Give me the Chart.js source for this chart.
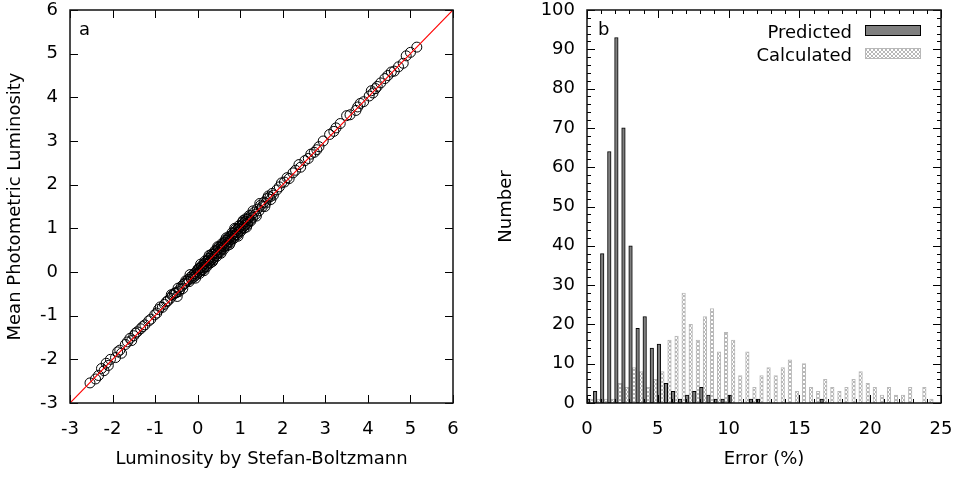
<!DOCTYPE html>
<html><head><meta charset="utf-8">
<script src="https://cdn.jsdelivr.net/npm/chart.js@4.4.1/dist/chart.umd.min.js"></script>
<style>
html,body{margin:0;padding:0;background:#fff;}
#wrap{position:relative;width:960px;height:478px;overflow:hidden;}
#c1{position:absolute;left:0;top:0;}
#c2{position:absolute;left:480px;top:0;}
</style></head><body>
<div id="wrap"><canvas id="c1" width="480" height="478"></canvas><canvas id="c2" width="480" height="478"></canvas></div>
<script>
// ---------- Panel a data: [Luminosity by Stefan-Boltzmann, Mean Photometric Luminosity]
const starPoints = [
[-2.53,-2.54],[-2.4,-2.45],[-2.33,-2.37],[-2.26,-2.21],[-2.2,-2.26],[-2.15,-2.09],[-2.1,-2.14],[-2.05,-2.0],
[-1.93,-1.96],[-1.88,-1.83],[-1.83,-1.79],[-1.79,-1.86],[-1.7,-1.66],[-1.65,-1.6],[-1.59,-1.52],[-1.55,-1.57],
[-1.5,-1.46],[-1.46,-1.4],[-1.42,-1.37],[-1.34,-1.3],[-1.29,-1.25],[-1.24,-1.21],[-1.15,-1.12],[-1.1,-1.08],
[-1.01,-0.98],[-0.96,-0.94],[-0.92,-0.86],[-0.88,-0.8],[-0.83,-0.81],[-0.78,-0.74],[-0.73,-0.68],[-0.7,-0.66],
[-0.64,-0.6],[-0.59,-0.53],[-0.55,-0.49],[-0.52,-0.48],[-0.5,-0.47],[-0.46,-0.37],[-0.44,-0.45],[-0.42,-0.4],
[-0.38,-0.33],[-0.35,-0.38],[-0.33,-0.28],[-0.3,-0.26],[-0.28,-0.2],[-0.25,-0.21],
[-0.22,-0.17],[-0.2,-0.22],[-0.17,-0.12],[-0.15,-0.16],[-0.12,-0.08],[-0.1,-0.12],[-0.08,-0.04],[-0.06,-0.09],
[-0.04,0.0],[-0.02,-0.05],[0.0,0.04],[0.02,-0.01],[0.04,0.08],[0.06,0.02],[0.08,0.1],[0.1,0.05],
[0.12,0.15],[0.14,0.1],[0.16,0.2],[0.18,0.13],[0.2,0.24],[0.22,0.18],[0.24,0.27],[0.26,0.22],
[0.28,0.31],[0.3,0.25],[0.32,0.36],[0.34,0.3],[0.36,0.4],[0.38,0.33],[0.4,0.44],[0.42,0.38],
[0.44,0.48],[0.46,0.42],[0.48,0.52],[0.5,0.46],[0.52,0.55],[0.54,0.5],[0.56,0.6],[0.58,0.54],
[0.6,0.64],[0.62,0.58],[0.64,0.68],[0.66,0.62],[0.68,0.72],[0.7,0.66],[0.72,0.76],[0.74,0.7],
[0.76,0.8],[0.78,0.74],[0.8,0.84],[0.82,0.78],[0.84,0.88],[0.86,0.82],[0.88,0.92],[0.9,0.86],
[0.92,0.96],[0.94,0.9],[0.96,1.0],[0.98,0.94],[1.0,1.04],[1.02,0.98],[1.04,1.08],[1.06,1.02],
[1.08,1.12],[1.1,1.06],[1.12,1.16],[1.14,1.1],[1.16,1.2],[1.18,1.14],[1.2,1.24],[1.23,1.18],
[1.26,1.3],[1.29,1.25],[1.32,1.36],[1.36,1.32],[1.4,1.44],[1.44,1.4],[1.48,1.53],[1.52,1.5],
[1.56,1.6],[1.6,1.58],[1.64,1.69],[1.7,1.72],[1.75,1.8],[1.78,1.76],
[0.01,0.07],[0.05,-0.03],[0.09,0.14],[0.13,0.06],[0.17,0.25],[0.21,0.12],[0.25,0.32],[0.29,0.2],
[0.33,0.41],[0.37,0.28],[0.41,0.49],[0.45,0.36],[0.49,0.57],[0.53,0.45],[0.57,0.65],[0.61,0.52],
[0.65,0.73],[0.69,0.6],[0.73,0.81],[0.77,0.68],[0.81,0.9],[0.85,0.77],[0.89,0.98],[0.93,0.85],
[0.97,1.06],[1.01,0.93],[1.05,1.14],[1.09,1.0],[1.13,1.22],[1.17,1.09],[1.21,1.29],[1.25,1.17],
[-0.18,-0.06],[-0.05,-0.14],[0.07,0.18],[0.15,0.03],[0.27,0.38],[0.35,0.24],[0.47,0.58],[0.55,0.43],
[0.67,0.78],[0.75,0.63],[0.87,1.0],[0.95,0.82],[1.07,1.18],[1.15,1.03],[1.3,1.4],[1.38,1.28],
[1.46,1.57],[1.58,1.5],[-0.62,-0.52],[-0.48,-0.56],[1.66,1.74],[1.72,1.66],
[1.86,1.88],[1.92,1.95],[1.97,2.04],[2.04,2.06],[2.1,2.16],[2.15,2.14],[2.24,2.27],[2.3,2.33],
[2.38,2.46],[2.42,2.4],[2.52,2.55],[2.6,2.6],[2.66,2.7],[2.74,2.74],[2.8,2.8],
[2.85,2.87],[2.95,3.0],[3.1,3.15],[3.2,3.22],[3.25,3.3],[3.35,3.4],[3.5,3.58],[3.58,3.6],
[3.72,3.7],[3.76,3.78],[3.82,3.86],[3.9,3.9],[4.03,4.03],[4.08,4.15],[4.12,4.1],[4.18,4.2],
[4.22,4.25],[4.3,4.33],[4.4,4.43],[4.47,4.5],[4.55,4.58],[4.62,4.6],[4.72,4.7],[4.83,4.78],
[4.9,4.95],[5.0,5.03],[5.15,5.15]
];
const lumTicks = [-3,-2,-1,0,1,2,3,4,5,6];

// ---------- Panel b data: histogram of errors (%), bins of 0.5
const errorBins = [0,0.5,1,1.5,2,2.5,3,3.5,4,4.5,5,5.5,6,6.5,7,7.5,8,8.5,9,9.5,10,10.5,11,11.5,12,12.5,
  13,13.5,14,14.5,15,15.5,16,16.5,17,17.5,18,18.5,19,19.5,20,20.5,21,21.5,22,22.5,23,23.5,24];
const predicted = [1,3,38,64,93,70,40,19,22,14,15,5,3,1,2,3,4,2,1,1,2,0,0,1,1,0,0,
  0,0,0,0,0,0,1,0,0,0,0,0,0,0,0,0,0,0,0,0,0,0];
const calculated = [1,1,1,1,5,4,9,8,4,6,8,16,17,28,20,16,22,24,13,18,16,7,13,4,7,9,7,
  9,11,3,10,4,3,6,4,3,4,6,8,5,4,2,4,2,2,4,0,4,1];
const errorTicks = [0,5,10,15,20,25];
const numberTicks = [0,10,20,30,40,50,60,70,80,90,100];

Chart.defaults.font.family = "'DejaVu Sans', sans-serif";
Chart.defaults.font.size = 18;
Chart.defaults.color = '#000';

function hatchPattern(ctx) {
  const c = document.createElement('canvas'); c.width = 4; c.height = 4;
  const g = c.getContext('2d');
  g.fillStyle = '#fff'; g.fillRect(0,0,4,4);
  g.strokeStyle = '#b8b8b8'; g.lineWidth = 1;
  g.beginPath(); g.moveTo(0,0); g.lineTo(4,4); g.moveTo(4,0); g.lineTo(0,4); g.stroke();
  return ctx.createPattern(c, 'repeat');
}

const frameTicks = {
  id: 'frameTicks',
  afterDatasetsDraw(chart, args, o) {
    const {ctx, chartArea: a, scales} = chart;
    const xs = scales.x, ys = scales.y;
    ctx.save();
    ctx.strokeStyle = '#000'; ctx.lineWidth = 1;
    const tx = (v, len) => {
      const p = Math.round(xs.getPixelForValue(v)) + 0.5;
      ctx.beginPath(); ctx.moveTo(p, a.bottom); ctx.lineTo(p, a.bottom - len);
      ctx.moveTo(p, a.top); ctx.lineTo(p, a.top + len); ctx.stroke();
    };
    const ty = (v, len) => {
      const p = Math.round(ys.getPixelForValue(v)) + 0.5;
      ctx.beginPath(); ctx.moveTo(a.left, p); ctx.lineTo(a.left + len, p);
      ctx.moveTo(a.right, p); ctx.lineTo(a.right - len, p); ctx.stroke();
    };
    if (o.minorX) for (let v = xs.min; v <= xs.max + 1e-9; v += o.minorX) tx(v, 4);
    if (o.minorY) for (let v = ys.min; v <= ys.max + 1e-9; v += o.minorY) ty(v, 4);
    xs.ticks.forEach(t => tx(t.value, 8));
    ys.ticks.forEach(t => ty(t.value, 8));
    ctx.lineWidth = 1.5; ctx.strokeStyle = '#111';
    ctx.strokeRect(a.left, a.top, a.right - a.left, a.bottom - a.top);
    ctx.fillStyle = '#000';
    ctx.font = "18px 'DejaVu Sans', sans-serif";
    ctx.textAlign = 'left'; ctx.textBaseline = 'alphabetic';
    ctx.fillText(o.panel, a.left + o.panelDx, a.top + 25);
    if (o.legend) {
      o.legend.forEach((it, i) => {
        const base = a.top + 28 + i * 23;
        ctx.textAlign = 'right';
        ctx.fillStyle = '#000';
        ctx.fillText(it.text, a.right - 89, base);
        const rx = a.right - 76, ry = base - 13, rw = 55, rh = 10;
        ctx.fillStyle = it.fill; ctx.fillRect(rx, ry, rw, rh);
        ctx.lineWidth = 1; ctx.strokeStyle = it.stroke;
        ctx.strokeRect(rx + 0.5, ry + 0.5, rw, rh);
      });
    }
    ctx.restore();
  }
};

const zeroPad = s => { s.paddingTop = 0; s.paddingBottom = 0; s.paddingLeft = 0; s.paddingRight = 0; };
const commonScale = (extra) => Object.assign({
  grid: {display: false, drawTicks: false},
  border: {display: false}
}, extra);

// ---------- Panel a
new Chart(document.getElementById('c1'), {
  type: 'scatter',
  data: {
    datasets: [
      { type: 'line', data: [{x: lumTicks[0], y: lumTicks[0]}, {x: lumTicks[lumTicks.length-1], y: lumTicks[lumTicks.length-1]}],
        borderColor: '#ff0000', borderWidth: 1.2, pointRadius: 0, showLine: true, fill: false, order: 0 },
      { data: starPoints.map(p => ({x: p[0], y: p[1]})),
        pointStyle: 'circle', pointRadius: 5, borderColor: '#000', borderWidth: 1,
        backgroundColor: 'rgba(0,0,0,0)', order: 1 }
    ]
  },
  options: {
    responsive: false, animation: false, devicePixelRatio: 1,
    layout: {padding: {left: 0, top: 10, right: 27, bottom: 0}},
    plugins: {legend: {display: false}, tooltip: {enabled: false},
      frameTicks: {panel: 'a', panelDx: 9}},
    scales: {
      x: commonScale({type: 'linear', min: lumTicks[0], max: lumTicks[lumTicks.length-1],
        afterBuildTicks: s => { s.ticks = lumTicks.map(v => ({value: v})); },
        ticks: {padding: 16, maxRotation: 0, autoSkip: false},
        title: {display: true, text: 'Luminosity by Stefan-Boltzmann', padding: {top: 0, bottom: 8}},
        afterFit: s => { s.height = 75; zeroPad(s); }}),
      y: commonScale({type: 'linear', min: lumTicks[0], max: lumTicks[lumTicks.length-1],
        afterBuildTicks: s => { s.ticks = lumTicks.map(v => ({value: v})); },
        ticks: {padding: 12, autoSkip: false},
        title: {display: true, text: 'Mean Photometric Luminosity', padding: {top: 5, bottom: 0}},
        afterFit: s => { s.width = 70; zeroPad(s); }})
    }
  },
  plugins: [frameTicks]
});

// ---------- Panel b
const ctx2 = document.getElementById('c2').getContext('2d');
const hatch = hatchPattern(ctx2);
const groupShift = 0.2;
new Chart(ctx2, {
  type: 'bar',
  data: {
    datasets: [
      { label: 'Predicted', data: errorBins.map((b, i) => ({x: b + groupShift, y: predicted[i]})),
        backgroundColor: '#7f7f7f', borderColor: '#000', borderWidth: 1, borderSkipped: false },
      { label: 'Calculated', data: errorBins.map((b, i) => ({x: b + groupShift, y: calculated[i]})),
        backgroundColor: hatch, borderColor: '#b8b8b8', borderWidth: 1, borderSkipped: false }
    ]
  },
  options: {
    responsive: false, animation: false, devicePixelRatio: 1,
    layout: {padding: {left: 0, top: 10, right: 19, bottom: 0}},
    datasets: {bar: {categoryPercentage: 1.0, barPercentage: 1.0, grouped: true}},
    plugins: {legend: {display: false}, tooltip: {enabled: false},
      frameTicks: {panel: 'b', panelDx: 11, minorX: 1, minorY: 2,
        legend: [
          {text: 'Predicted', fill: '#7f7f7f', stroke: '#000'},
          {text: 'Calculated', fill: hatch, stroke: '#b8b8b8'}
        ]}},
    scales: {
      x: commonScale({type: 'linear', offset: false, min: errorTicks[0], max: errorTicks[errorTicks.length-1],
        afterBuildTicks: s => { s.ticks = errorTicks.map(v => ({value: v})); },
        ticks: {padding: 16, maxRotation: 0, autoSkip: false},
        title: {display: true, text: 'Error (%)', padding: {top: 0, bottom: 8}},
        afterFit: s => { s.height = 75; zeroPad(s); }}),
      y: commonScale({type: 'linear', min: numberTicks[0], max: numberTicks[numberTicks.length-1],
        afterBuildTicks: s => { s.ticks = numberTicks.map(v => ({value: v})); },
        ticks: {padding: 12, autoSkip: false},
        title: {display: true, text: 'Number', padding: {top: 16, bottom: 0}},
        afterFit: s => { s.width = 107; zeroPad(s); }})
    }
  },
  plugins: [frameTicks]
});
</script>
</body></html>
